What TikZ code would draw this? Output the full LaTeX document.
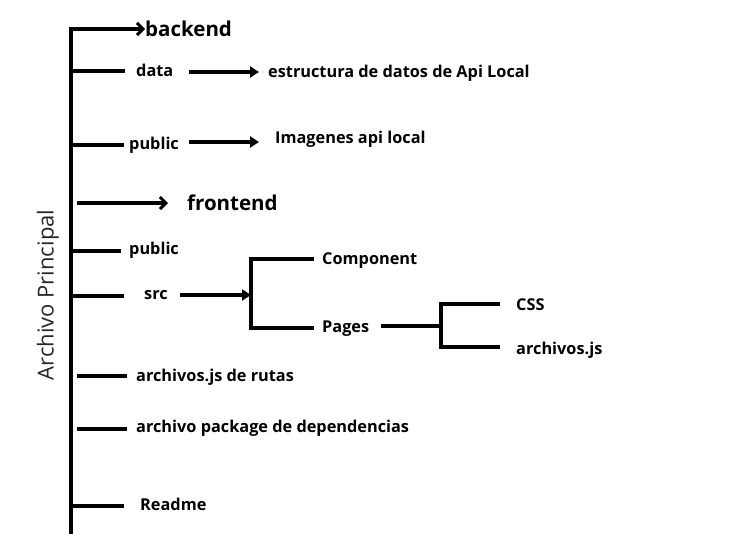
\documentclass[tikz,border=0pt]{standalone}
\usepackage{fontspec}
\setmainfont{Open Sans}
\usetikzlibrary{arrows.meta}
\begin{document}
\begin{tikzpicture}[x=1pt,y=-1pt,
  ln/.style={line width=4pt},
  trunk/.style={line width=4.5pt},
  farrow/.style={line width=3.5pt,-{Triangle[length=9pt,width=11pt]}},
  barrow/.style={line width=3.5pt,-{Straight Barb[length=6pt,width=12pt,line width=3pt]}},
  lbl/.style={anchor=west,inner sep=0pt,yshift=-3pt,font=\bfseries\fontsize{16.3}{18}\selectfont,text height=0.75em,text depth=0.2em},
  big/.style={anchor=west,inner sep=0pt,yshift=-5pt,font=\bfseries\fontsize{20.5}{22}\selectfont,text height=0.75em,text depth=0.2em}]
\useasboundingbox (0,0) rectangle (744,533);
% trunk
\coordinate (t0) at (71,27);
\coordinate (t1) at (71,536);
\draw[trunk] (t0) -- (t1);
\node[rotate=90,inner sep=0pt,font=\fontsize{22}{24}\selectfont,text=black!85] (main) at (48,295) {Archivo Principal};
% backend
\node[big] (backend) at (145,29) {backend};
\coordinate (b0) at (69,29);
\draw[barrow] (b0) -- ([yshift=5pt]backend.west);
% data
\node[lbl] (data) at (136,71) {data};
\coordinate (d0) at (71,71); \coordinate (d1) at (125,71);
\draw[ln] (d0) -- (d1);
\node[lbl] (est) at (268,72) {estructura de datos de Api Local};
\coordinate (da0) at (189,72); \coordinate (da1) at (259,72);
\draw[farrow] (da0) -- (da1);
% public backend
\node[lbl] (pub1) at (129,144) {public};
\coordinate (p0) at (71,145); \coordinate (p1) at (124,145);
\draw[ln] (p0) -- (p1);
\node[lbl] (img) at (275,138) {Imagenes api local};
\coordinate (pa0) at (189,142); \coordinate (pa1) at (259,142);
\draw[farrow] (pa0) -- (pa1);
% frontend
\node[big] (frontend) at (187,203) {frontend};
\coordinate (f0) at (77,203); \coordinate (f1) at (168,203);
\draw[barrow] (f0) -- (f1);
% public frontend
\node[lbl] (pub2) at (129,249) {public};
\coordinate (q0) at (71,251); \coordinate (q1) at (121,251);
\draw[ln] (q0) -- (q1);
% src
\node[lbl] (src) at (144,294) {src};
\coordinate (s0) at (71,296); \coordinate (s1) at (124,296);
\draw[ln] (s0) -- (s1);
\coordinate (sa0) at (180,295); \coordinate (sa1) at (251,295);
\draw[farrow] (sa0) -- (sa1);
% bracket src
\coordinate (k0) at (251,259); \coordinate (k1) at (251,328);
\coordinate (k2) at (314,259); \coordinate (k3) at (314,328);
\draw[ln,line join=miter] (k2) -- (k0) -- (k1) -- (k3);
\node[lbl] (comp) at (322,259) {Component};
\node[lbl] (pages) at (322,327) {Pages};
% bracket pages
\coordinate (g0) at (381,326); \coordinate (g1) at (441,326);
\draw[ln] (g0) -- (g1);
\coordinate (h0) at (441,304); \coordinate (h1) at (441,347);
\coordinate (h2) at (500,304); \coordinate (h3) at (500,347);
\draw[ln,line join=miter] (h2) -- (h0) -- (h1) -- (h3);
\node[lbl] (css) at (516,305) {CSS};
\node[lbl] (ajs) at (516,349) {archivos.js};
% rutas
\node[lbl] (rutas) at (136,376) {archivos.js de rutas};
\coordinate (r0) at (77,376); \coordinate (r1) at (127,376);
\draw[ln] (r0) -- (r1);
% package
\node[lbl] (pkg) at (136,427) {archivo package de dependencias};
\coordinate (k4) at (77,429); \coordinate (k5) at (127,429);
\draw[ln] (k4) -- (k5);
% readme
\node[lbl] (readme) at (140,505) {Readme};
\coordinate (m0) at (71,506); \coordinate (m1) at (124,506);
\draw[ln] (m0) -- (m1);
\end{tikzpicture}
\end{document}
